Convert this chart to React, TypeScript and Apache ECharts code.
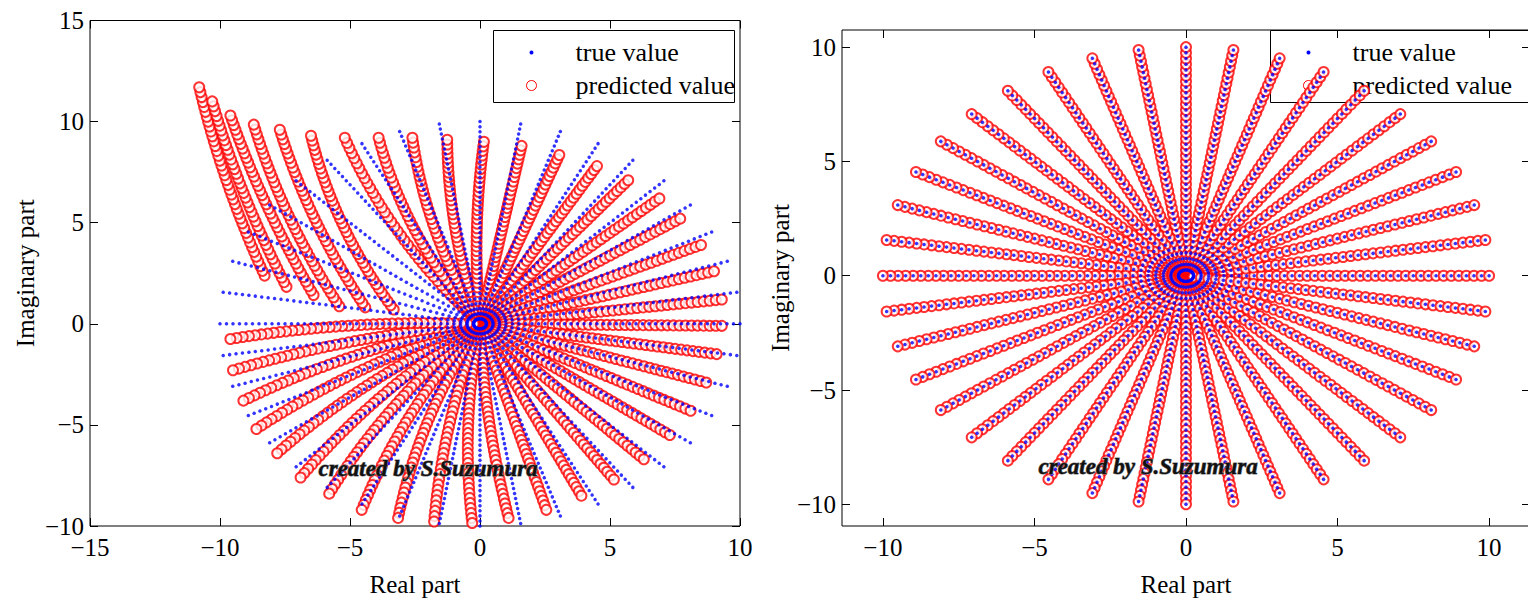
import React, { useRef, useEffect } from 'react'
import * as echarts from 'echarts'

// ray angles (degrees) of the true values, and sample radii along each ray
const rayAngles = [0, 9, 18, 27, 36, 45, 54, 63, 72, 81, 90, 99, 108, 117, 126, 135, 144, 153, 162, 171,
  180, 189, 198, 207, 216, 225, 234, 243, 252, 261, 270, 279, 288, 297, 306, 315, 324, 333, 342, 351]
const radii = [0.25, 0.5, 0.75, 1, 1.25, 1.5, 1.75, 2, 2.25, 2.5, 2.75, 3, 3.25, 3.5, 3.75, 4, 4.25, 4.5, 4.75, 5,
  5.25, 5.5, 5.75, 6, 6.25, 6.5, 6.75, 7, 7.25, 7.5, 7.75, 8, 8.25, 8.5, 8.75, 9, 9.25, 9.5, 9.75, 10]

// left panel predicted rays: start point, end point, bend (perpendicular offset at middle)
const predStartX = [-8.2, -7.35, -6.3, -5.3, -4.3, -3.2, 0, 0, 0, 0, 0, 0, 0, 0, 0, 0, 0, 0, 0, 0, 0, 0, 0, 0, 0, 0, 0, 0, 0, 0, 0, 0, 0, 0, 0, 0, 0, 0, 0, 0, 0]
const predStartY = [2.15, 1.6, 1.2, 0.65, 0.6, 0.5, 0, 0, 0, 0, 0, 0, 0, 0, 0, 0, 0, 0, 0, 0, 0, 0, 0, 0, 0, 0, 0, 0, 0, 0, 0, 0, 0, 0, 0, 0, 0, 0, 0, 0, 0]
const predEndX = [-10.8, -10.3, -9.6, -8.7, -7.7, -6.5, -5.2, -3.9, -2.6, -1.26, 0.15, 1.6, 3.05, 4.5, 5.7, 6.9, 7.7, 8.5, 9.0, 9.3,
  9.3, 9.1, 8.7, 8.1, 7.3, 6.3, 5.15, 3.9, 2.55, 1.1, -0.3, -1.8, -3.15, -4.55, -5.8, -6.9, -7.8, -8.6, -9.1, -9.5, -9.6]
const predEndY = [11.7, 11.0, 10.3, 9.85, 9.6, 9.3, 9.2, 9.2, 9.2, 9.1, 9.0, 8.8, 8.35, 7.8, 7.1, 6.2, 5.2, 3.9, 2.6, 1.2,
  -0.1, -1.5, -2.9, -4.3, -5.5, -6.7, -7.7, -8.5, -9.2, -9.6, -9.85, -10.3, -9.6, -9.2, -8.4, -7.6, -6.4, -5.2, -3.8, -2.3, -0.75]
const predBend = [0.2, 0.2, 0.2, 0.3, 0.3, 0.4, 0.5, 0.5, 0.4, 0.3, 0.2, 0, 0, 0, 0, 0, 0, 0, 0, 0,
  0, 0, 0, 0, 0, 0, 0, 0, 0, -0.2, -0.3, -0.3, -0.4, -0.4, -0.4, -0.4, -0.4, -0.4, -0.4, -0.3, -0.3]

const trueTicks = [-10, -5, 0, 5, 10]
const leftXTicks = [-15, -10, -5, 0, 5, 10]
const leftYTicks = [-10, -5, 0, 5, 10, 15]

const FONT = '"Liberation Serif", "DejaVu Serif", serif'

const truePoints: number[][] = []
rayAngles.forEach((a) => {
  const t = (a * Math.PI) / 180
  radii.forEach((r) => truePoints.push([r * Math.cos(t), r * Math.sin(t)]))
})

const predPoints: number[][] = []
predEndX.forEach((ex, i) => {
  const sx = predStartX[i], sy = predStartY[i], ey = predEndY[i]
  const dx = ex - sx, dy = ey - sy
  const len = Math.hypot(dx, dy) || 1
  const cx = (sx + ex) / 2 - (dy / len) * predBend[i] * 2
  const cy = (sy + ey) / 2 + (dx / len) * predBend[i] * 2
  radii.forEach((r) => {
    const t = r / 10
    const u = 1 - t
    predPoints.push([u * u * sx + 2 * u * t * cx + t * t * ex, u * u * sy + 2 * u * t * cy + t * t * ey])
  })
})

const App: React.FC = () => {
  const chartRef = useRef<HTMLDivElement>(null)

  useEffect(() => {
    if (!chartRef.current) return
    const chart = echarts.init(chartRef.current, undefined, { renderer: 'svg' })

    const grids = [
      { left: 82, top: 10, width: 650, height: 515 },
      { left: 834, top: 22, width: 688, height: 505 },
    ]
    const ranges = [
      { x: [-15, 10], y: [-10, 15], xt: leftXTicks, yt: leftYTicks },
      { x: [-11.35, 11.35], y: [-10.95, 10.75], xt: trueTicks, yt: trueTicks },
    ]
    const label = { color: '#000', fontFamily: FONT, fontSize: 25 }
    const xAxis: any[] = []
    const yAxis: any[] = []
    ranges.forEach((r, g) => {
      ;['bottom', 'top'].forEach((pos, k) => {
        xAxis.push({
          type: 'value', gridIndex: g, position: pos, min: r.x[0], max: r.x[1],
          name: k === 0 ? 'Real part' : '', nameLocation: 'middle', nameGap: 46,
          nameTextStyle: { ...label },
          axisLine: { show: false, onZero: false }, splitLine: { show: false },
          axisTick: { show: true, inside: true, length: 8, customValues: r.xt, lineStyle: { color: '#000' } },
          axisLabel: { show: k === 0, ...label, margin: 9, customValues: r.xt, formatter: (v: number) => String(v).replace('-', '\u2212') },
        })
      })
      ;['left', 'right'].forEach((pos, k) => {
        yAxis.push({
          type: 'value', gridIndex: g, position: pos, min: r.y[0], max: r.y[1],
          name: k === 0 ? 'Imaginary part' : '', nameLocation: 'middle', nameGap: g === 0 ? 52 : 44,
          nameTextStyle: { ...label },
          axisLine: { show: false, onZero: false }, splitLine: { show: false },
          axisTick: { show: true, inside: true, length: 8, customValues: r.yt, lineStyle: { color: '#000' } },
          axisLabel: { show: k === 0, ...label, margin: 6, customValues: r.yt, formatter: (v: number) => String(v).replace('-', '\u2212') },
        })
      })
    })

    const blue = { type: 'scatter', symbol: 'circle', symbolSize: 3.5, itemStyle: { color: '#0000ff' }, z: 3, silent: true }
    const red = { type: 'scatter', symbol: 'emptyCircle', symbolSize: 10, itemStyle: { color: '#ff0000', borderColor: '#ff0000', borderWidth: 1 }, z: 2, silent: true }

    const legend = (x: number, w: number) => ({
      type: 'group', left: x, top: 22, z: 50, children: [
        { type: 'rect', shape: { x: 0, y: 0, width: w, height: 72 }, style: { fill: '#fff', stroke: '#000', lineWidth: 1 } },
        { type: 'circle', shape: { cx: 38, cy: 22, r: 2 }, style: { fill: '#0000ff' } },
        { type: 'circle', shape: { cx: 38, cy: 55, r: 5 }, style: { fill: 'none', stroke: '#ff0000', lineWidth: 1 } },
        { type: 'text', x: 82, y: 22, style: { text: 'true value', font: `26px ${FONT}`, fill: '#000', verticalAlign: 'middle' } },
        { type: 'text', x: 82, y: 55, style: { text: 'predicted value', font: `26px ${FONT}`, fill: '#000', verticalAlign: 'middle' } },
      ],
    })
    const mark = (x: number, y: number) => ({
      type: 'text', left: x, top: y, z: 100,
      style: { text: 'created by S.Suzumura', font: `italic bold 23px ${FONT}`, fill: '#111', stroke: '#777', lineWidth: 1 },
    })

    chart.setOption({
      animation: false,
      grid: grids.map((g) => ({ ...g, show: true, borderColor: '#000', borderWidth: 1, backgroundColor: '#fff' })),
      xAxis, yAxis,
      series: [
        { ...red, xAxisIndex: 0, yAxisIndex: 0, data: predPoints },
        { ...blue, xAxisIndex: 0, yAxisIndex: 0, data: truePoints },
        { ...red, xAxisIndex: 2, yAxisIndex: 2, data: truePoints },
        { ...blue, xAxisIndex: 2, yAxisIndex: 2, data: truePoints },
      ],
      graphic: [legend(485, 241), legend(1262, 262), mark(310, 448), mark(1030, 446)],
    })

    return () => chart.dispose()
  }, [])

  return <div ref={chartRef} style={{ width: 1528, height: 594 }} />
}

export default App
